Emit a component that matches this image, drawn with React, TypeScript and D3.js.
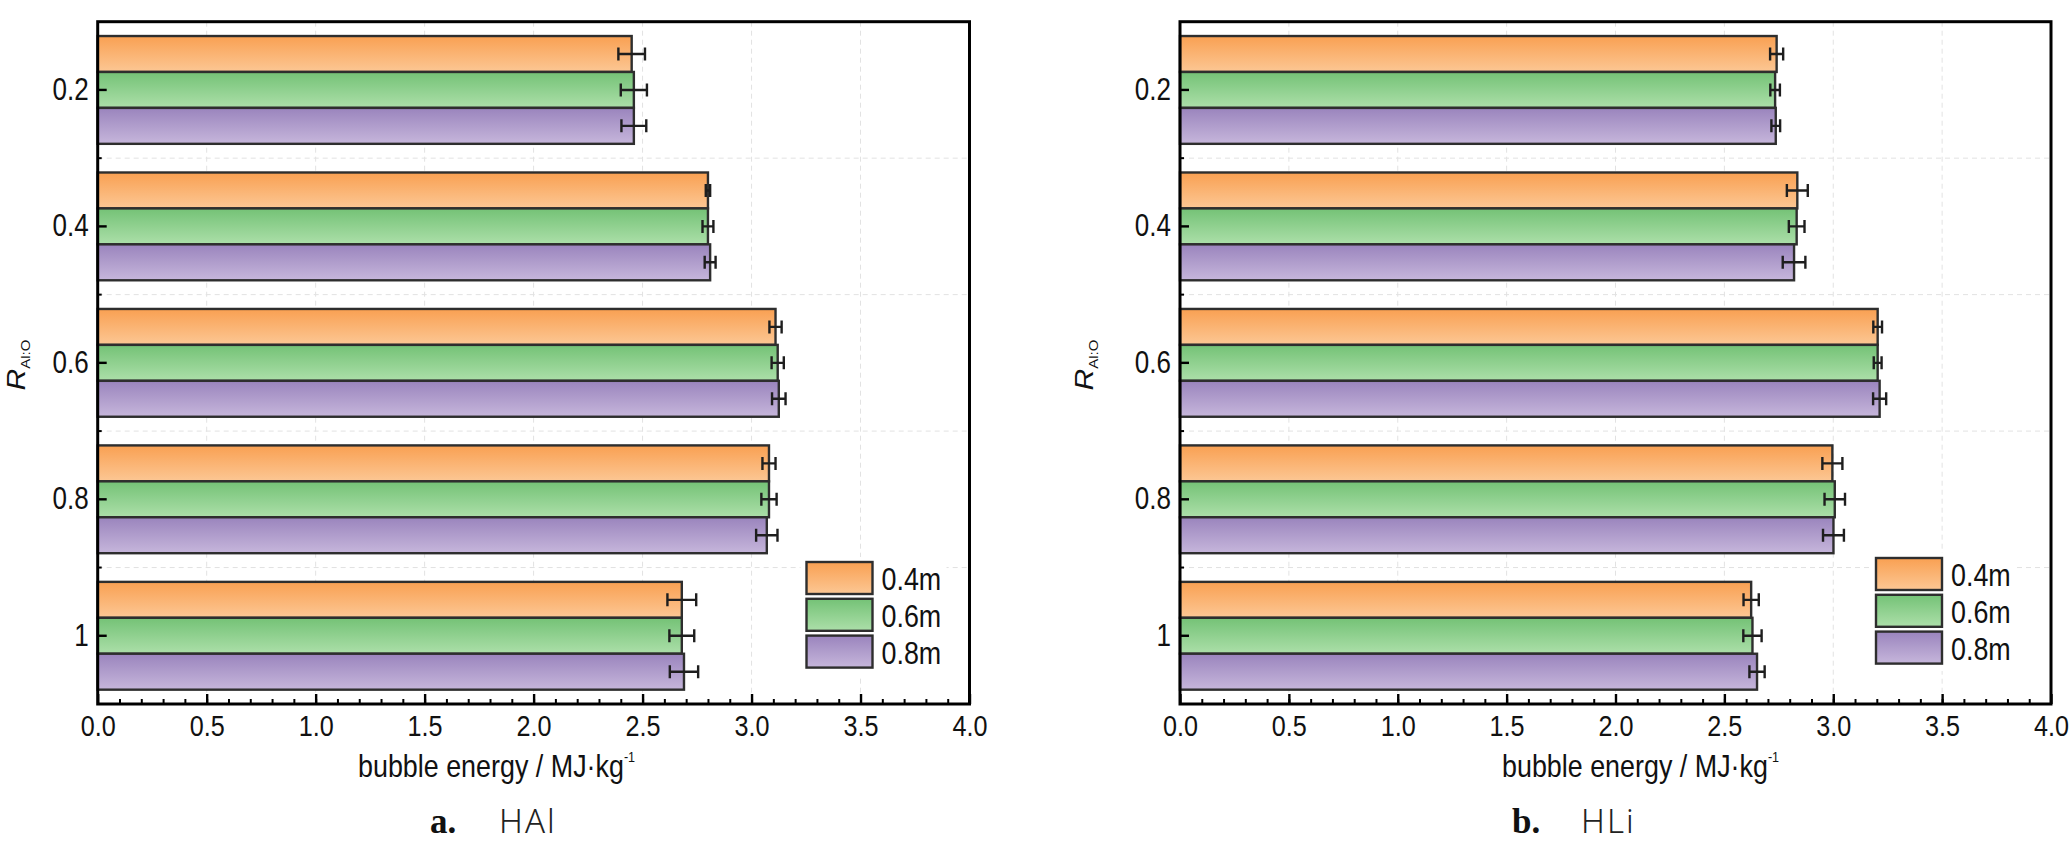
import React, { useEffect, useRef } from "react";
import * as d3 from "d3";

// categories on the y axis (R Al:O) and the three series
const categories = ["0.2", "0.4", "0.6", "0.8", "1"];
const seriesNames = ["0.4m", "0.6m", "0.8m"];
const xTicks = [0, 0.5, 1.0, 1.5, 2.0, 2.5, 3.0, 3.5, 4.0];

// panel a. HAl
const hal04 = [2.45, 2.8, 3.11, 3.08, 2.68];
const hal06 = [2.46, 2.8, 3.12, 3.08, 2.68];
const hal08 = [2.46, 2.81, 3.125, 3.07, 2.69];
const hal04Err = [0.061, 0.01, 0.028, 0.03, 0.066];
const hal06Err = [0.06, 0.025, 0.028, 0.035, 0.057];
const hal08Err = [0.057, 0.025, 0.031, 0.049, 0.065];

// panel b. HLi
const hli04 = [2.74, 2.835, 3.204, 2.996, 2.623];
const hli06 = [2.733, 2.832, 3.204, 3.007, 2.629];
const hli08 = [2.736, 2.82, 3.213, 3.001, 2.65];
const hli04Err = [0.03, 0.048, 0.02, 0.046, 0.035];
const hli06Err = [0.022, 0.036, 0.018, 0.047, 0.042];
const hli08Err = [0.02, 0.052, 0.03, 0.048, 0.035];

const gradColors = [
  ["#f9a052", "#fcc794"],
  ["#74c276", "#acdfa9"],
  ["#9a84bd", "#c6b6db"],
];

const SANS = "'Liberation Sans', Arial, Helvetica, sans-serif";
const SQUEEZE = 0.84;

type Panel = {
  means: number[][];
  errs: number[][];
  left: number;
  right: number;
  rLabelX: number;
  legendX: number;
  legendY: number;
  xLabelX: number;
  tagX: number;
  nameX: number;
  tag: string;
  name: string;
};

const panels: Panel[] = [
  {
    means: [hal04, hal06, hal08],
    errs: [hal04Err, hal06Err, hal08Err],
    left: 97.7,
    right: 969.5,
    rLabelX: 25,
    legendX: 806.5,
    legendY: 562,
    xLabelX: 358,
    tagX: 430,
    nameX: 499,
    tag: "a.",
    name: "HAl",
  },
  {
    means: [hli04, hli06, hli08],
    errs: [hli04Err, hli06Err, hli08Err],
    left: 1180,
    right: 2051,
    rLabelX: 1093,
    legendX: 1876,
    legendY: 558,
    xLabelX: 1502,
    tagX: 1512,
    nameX: 1581,
    tag: "b.",
    name: "HLi",
  },
];

const TOP = 21.7;
const BOTTOM = 704;

function drawPanel(svg: d3.Selection<SVGSVGElement, unknown, null, undefined>, p: Panel) {
  const g = svg.append("g");

  const x = d3.scaleLinear().domain([0, 4]).range([p.left, p.right]);
  const y = d3
    .scaleBand()
    .domain(categories)
    .range([TOP, BOTTOM])
    .paddingInner(0.21)
    .paddingOuter(0.105);
  const ySub = d3.scaleBand().domain(seriesNames).range([0, y.bandwidth()]);

  const boundaries = categories
    .slice(1)
    .map((c, i) => (y(categories[i])! + y.bandwidth() + y(c)!) / 2);

  // Grid lines
  g.selectAll(".vgrid")
    .data(xTicks.slice(1, -1))
    .enter()
    .append("line")
    .attr("x1", (d) => x(d))
    .attr("x2", (d) => x(d))
    .attr("y1", TOP)
    .attr("y2", BOTTOM)
    .attr("stroke", "#e2e2e2")
    .attr("stroke-width", 1)
    .attr("stroke-dasharray", "5,4");
  g.selectAll(".hgrid")
    .data(boundaries)
    .enter()
    .append("line")
    .attr("x1", p.left)
    .attr("x2", p.right)
    .attr("y1", (d) => d)
    .attr("y2", (d) => d)
    .attr("stroke", "#e2e2e2")
    .attr("stroke-width", 1)
    .attr("stroke-dasharray", "5,4");

  // Bars
  const rows = categories.flatMap((c, ci) =>
    seriesNames.map((s, si) => ({
      c,
      s,
      si,
      v: p.means[si][ci],
      e: p.errs[si][ci],
    })),
  );

  g.selectAll(".bar")
    .data(rows)
    .enter()
    .append("rect")
    .attr("x", x(0))
    .attr("y", (d) => y(d.c)! + ySub(d.s)!)
    .attr("width", (d) => x(d.v) - x(0))
    .attr("height", ySub.bandwidth())
    .attr("fill", (d) => `url(#grad${d.si})`)
    .attr("stroke", "#2e2e2e")
    .attr("stroke-width", 2.4);

  // Error bars
  g.selectAll(".err")
    .data(rows)
    .enter()
    .append("path")
    .attr("d", (d) => {
      const cy = y(d.c)! + ySub(d.s)! + ySub.bandwidth() / 2;
      const a = x(d.v - d.e);
      const b = x(d.v + d.e);
      return `M${a},${cy}H${b}M${a},${cy - 6.5}V${cy + 6.5}M${b},${cy - 6.5}V${cy + 6.5}`;
    })
    .attr("fill", "none")
    .attr("stroke", "#1e1e1e")
    .attr("stroke-width", 2.4);

  // Legend
  const leg = g.append("g");
  leg
    .append("rect")
    .attr("x", p.legendX - 6)
    .attr("y", p.legendY - 5)
    .attr("width", 146)
    .attr("height", 118)
    .attr("fill", "#fff");
  seriesNames.forEach((s, i) => {
    const ly = p.legendY + i * 36.8;
    leg
      .append("rect")
      .attr("x", p.legendX)
      .attr("y", ly)
      .attr("width", 66)
      .attr("height", 32)
      .attr("fill", `url(#grad${i})`)
      .attr("stroke", "#2e2e2e")
      .attr("stroke-width", 2.4);
    leg
      .append("text")
      .attr("transform", `translate(${p.legendX + 75},${ly + 28}) scale(${SQUEEZE},1)`)
      .attr("font-family", SANS)
      .attr("font-size", 32)
      .attr("fill", "#111")
      .text(s);
  });

  // Frame
  g.append("rect")
    .attr("x", p.left)
    .attr("y", TOP)
    .attr("width", p.right - p.left)
    .attr("height", BOTTOM - TOP)
    .attr("fill", "none")
    .attr("stroke", "#000")
    .attr("stroke-width", 3);

  // X axis (ticks inside)
  const xAxis = g
    .append("g")
    .attr("transform", `translate(0,${BOTTOM})`)
    .call(
      d3
        .axisBottom(x)
        .tickValues(xTicks)
        .tickSize(-10)
        .tickPadding(11)
        .tickFormat(d3.format(".1f")),
    );
  xAxis.select(".domain").remove();
  xAxis.attr("font-family", SANS).attr("font-size", 30);
  xAxis.selectAll("line").attr("stroke", "#000").attr("stroke-width", 2.4);
  xAxis
    .selectAll("text")
    .attr("fill", "#111")
    .attr("transform", `scale(${SQUEEZE},1)`);

  const minorX = g
    .append("g")
    .attr("transform", `translate(0,${BOTTOM})`)
    .call(
      d3
        .axisBottom(x)
        .tickValues(d3.range(1, 40).map((i) => i / 10))
        .tickSize(-5)
        .tickFormat(() => ""),
    );
  minorX.select(".domain").remove();
  minorX.selectAll("line").attr("stroke", "#000").attr("stroke-width", 2);

  // Y axis
  const yAxis = g
    .append("g")
    .attr("transform", `translate(${p.left},0)`)
    .call(d3.axisLeft(y).tickSize(-9).tickPadding(9));
  yAxis.select(".domain").remove();
  yAxis.attr("font-family", SANS).attr("font-size", 31);
  yAxis.selectAll("line").attr("stroke", "#000").attr("stroke-width", 2.4);
  yAxis
    .selectAll("text")
    .attr("fill", "#111")
    .attr("x", 0)
    .attr("transform", `translate(-9,0) scale(${SQUEEZE},1)`);

  g.selectAll(".yminor")
    .data(boundaries)
    .enter()
    .append("line")
    .attr("x1", p.left)
    .attr("x2", p.left + 4)
    .attr("y1", (d) => d)
    .attr("y2", (d) => d)
    .attr("stroke", "#000")
    .attr("stroke-width", 2);

  // Y label R_Al:O
  const rl = g
    .append("text")
    .attr("transform", `translate(${p.rLabelX},365) scale(${SQUEEZE},1) rotate(-90)`)
    .attr("text-anchor", "middle")
    .attr("font-family", SANS)
    .attr("fill", "#111");
  rl.append("tspan").attr("font-size", 30).attr("font-style", "italic").text("R");
  rl.append("tspan").attr("font-size", 15).attr("dy", 6).text("Al:O");

  // X label
  const xl = g
    .append("text")
    .attr("transform", `translate(${p.xLabelX},777) scale(${SQUEEZE},1)`)
    .attr("font-family", SANS)
    .attr("font-size", 32)
    .attr("fill", "#111");
  xl.append("tspan").text("bubble energy / MJ·kg");
  xl.append("tspan").attr("font-size", 15).attr("dy", -15).text("-1");

  // Panel caption
  g.append("text")
    .attr("x", p.tagX)
    .attr("y", 833)
    .attr("font-family", "'Liberation Serif', 'Times New Roman', serif")
    .attr("font-weight", "bold")
    .attr("font-size", 35)
    .attr("fill", "#111")
    .text(p.tag);
  g.append("text")
    .attr("x", p.nameX)
    .attr("y", 833)
    .attr("font-family", "'Noto Sans', " + SANS)
    .attr("font-weight", 300)
    .attr("font-size", 33)
    .attr("letter-spacing", 2)
    .attr("fill", "#222")
    .text(p.name);
}

export default function App() {
  const ref = useRef<SVGSVGElement>(null);

  useEffect(() => {
    if (!ref.current) return;
    const svg = d3.select(ref.current);
    svg.selectAll("*").remove();

    const defs = svg.append("defs");
    gradColors.forEach(([top, bottom], i) => {
      const grad = defs
        .append("linearGradient")
        .attr("id", `grad${i}`)
        .attr("x1", "0%")
        .attr("y1", "0%")
        .attr("x2", "0%")
        .attr("y2", "100%");
      grad.append("stop").attr("offset", "0%").attr("stop-color", top);
      grad.append("stop").attr("offset", "100%").attr("stop-color", bottom);
    });

    panels.forEach((p) => drawPanel(svg, p));
  }, []);

  return (
    <div>
      <style>{"body{margin:0;background:#fff}"}</style>
      <svg ref={ref} width={2071} height={862} style={{ display: "block" }} />
    </div>
  );
}
